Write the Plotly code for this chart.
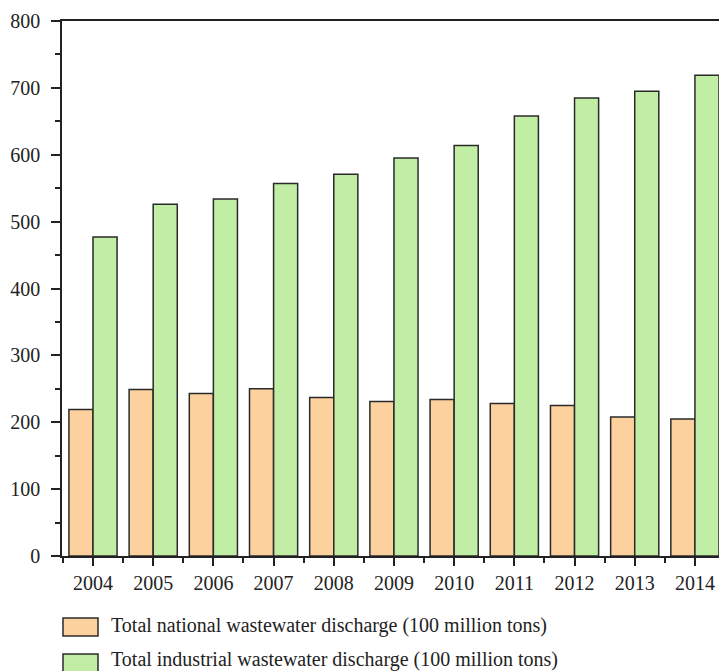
import plotly.graph_objects as go

years = [2004, 2005, 2006, 2007, 2008, 2009, 2010, 2011, 2012, 2013, 2014]
national = [219, 249, 243, 250, 237, 231, 234, 228, 225, 208, 205]
industrial = [477, 526, 534, 557, 571, 595, 614, 658, 685, 695, 719]
series_names = [
    "Total national wastewater discharge (100 million tons)",
    "Total industrial wastewater discharge (100 million tons)",
]
colors = ["#FDD19E", "#C1EEA4"]
y_ticks = [0, 100, 200, 300, 400, 500, 600, 700, 800]

FONT = "Liberation Serif"
fig = go.Figure()
for vals, name, col in zip([national, industrial], series_names, colors):
    fig.add_trace(go.Bar(
        x=years, y=vals, name=name, marker=dict(color=col, line=dict(color="#2a2a2a", width=1.5)),
        showlegend=False,
    ))

# custom legend (wide boxes like the reference)
legend_y = [(-0.1159, -0.1495), (-0.183, -0.217)]
text_y = [-0.1290, -0.1930]
for (y0, y1), ty, name, col in zip(legend_y, text_y, series_names, colors):
    fig.add_shape(type="rect", xref="paper", yref="paper", x0=0.0015, x1=0.0548, y0=y1, y1=y0,
                  fillcolor=col, line=dict(color="#2a2a2a", width=1.5))
    fig.add_annotation(xref="paper", yref="paper", x=0.0715, y=ty, text=name,
                       showarrow=False, xanchor="left", yanchor="middle",
                       font=dict(family=FONT, size=20, color="#222"))

fig.update_layout(
    width=719, height=671,
    margin=dict(l=62, r=0, t=21, b=115),
    paper_bgcolor="white", plot_bgcolor="white",
    barmode="group", bargap=0.2, bargroupgap=0,
    font=dict(family=FONT, size=20, color="#222"),
    xaxis=dict(
        range=[2003.485, 2014.4], tickmode="array", tickvals=years, ticktext=[str(y) for y in years],
        ticks="outside", ticklen=8, tickwidth=1.5, tickcolor="#222",
        showline=True, linecolor="#222", linewidth=2, mirror=True,
        showgrid=False, zeroline=False,
        minor=dict(tickmode="array", tickvals=[y - 0.5 for y in years] + [2014.5],
                   ticks="outside", ticklen=5, tickwidth=1.5, tickcolor="#222", showgrid=False),
    ),
    yaxis=dict(
        range=[0, 800], tickmode="array", tickvals=y_ticks,
        ticks="outside", ticklen=9, tickwidth=1.5, tickcolor="#222",
        showline=True, linecolor="#222", linewidth=1.5,
        showgrid=False, zeroline=False, ticklabelstandoff=7,
        minor=dict(tickmode="array", tickvals=[v + 50 for v in y_ticks[:-1]],
                   ticks="outside", ticklen=5, tickwidth=1.5, tickcolor="#222", showgrid=False),
    ),
)
fig.write_html("out.html", config={"displayModeBar": False},
               post_script="document.body.style.margin='0';document.body.style.overflow='hidden';")
